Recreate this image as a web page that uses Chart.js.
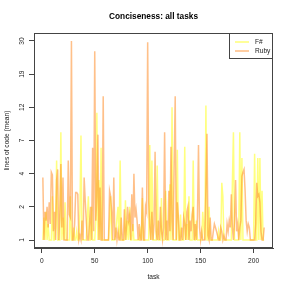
<!DOCTYPE html>
<html><head><meta charset="utf-8">
<script src="https://cdn.jsdelivr.net/npm/chart.js@4"></script>
<style>html,body{margin:0;padding:0;background:#fff}#w{width:291px;height:291px}</style>
</head><body><div id="w"><canvas id="c" width="291" height="291"></canvas></div>
<script>
const chartTitle = "Conciseness: all tasks";
const xTitle = "task";
const yTitle = "lines of code (mean)";
const seriesNames = ["F#", "Ruby"];
const yTickLabels = [1, 2, 4, 7, 12, 19, 30];
const xTicks = [0, 50, 100, 150, 200];
const tasks = Array.from({length: 210}, (_, i) => i + 1);

const fsharp = [
 1,1.6,1,1.8,1,1.4,1,1,1,2.5,
 1,1,1.3,5,1,1,1,8,1,1.6,
 1,2.2,1,1,1,1,2.5,1,1,1.3,
 1,1,1.2,1,1,1.8,7.6,1,1,1,
 1,1,1.6,2.5,1,1,2,1,1,1,
 1.5,11,1,3.5,1,6.2,1,1,1,1,
 1,1,1,1.5,2.5,1,1,1,1,1.2,
 1.6,2,1,5,1,1,1,1,2.3,1,
 1.5,1,2,1,1,1.4,1,1,1,1,
 1,1,1.2,1,2.4,1,1,1,1,1,
 1,6.5,1,5,1,1,1,1,4.6,1,
 1,1,2.4,1,1,1,2.8,1,1,1,
 3.2,1,12,1,1,1,1,6,1,1,
 1.7,1,1,1,6.3,1,1.4,1,2.5,1,
 1,1,5,1,1,1.5,1,1,1,1,
 1,1.8,1.3,1,12.3,1,1,2,1,1,
 1,1,1,1,1,1,1.2,1,1,3.3,
 2.5,1,1,1,1,1,1,1,1,3.3,
 8,1,1,1,1,1,8,1,5.2,1,
 1,1,1,1,1,1,1,1,1,1,
 5.6,1,1,5.2,1,5.2,1,2.8,1,1
];
const ruby = [
 3.7,1,1.8,1.5,2,1.3,2.2,1.4,4.1,3.9,
 1.2,1.8,1,3.5,4.3,1,1.6,4.7,1.3,3.7,
 1,1,1,1,5,1.7,1.6,30,1,1,
 1.4,2.7,2.7,2.6,1,1.1,1,1.5,1,3.7,
 2.3,1.5,1,1,1.4,2,1,6.2,1.2,26,
 1.5,2.5,7.7,1,3,1,1,14,1,1,
 1,1,1,2.8,2.5,1.8,1,3.7,1,1.3,
 1,1.2,1,1,1.6,1,1,1.9,1,1.3,
 2,1.5,1.7,1,2.6,1.2,4,1.6,1.9,1.5,
 1,1.4,1,1,3,1,1,2,1.8,29.5,
 2.2,1.3,1,1.8,1,1.4,5.8,1.2,1,1.5,
 1,2,1.2,1,1.3,8,1,1.5,1,2.8,
 1.2,6.3,1.5,1,4.6,14,1,2.2,1.6,1,
 1,1.3,1,1.6,1.4,1,1.8,2,1,1.5,
 1.2,1.7,2,1,1.4,1,1.6,6.5,1.3,1,
 1.2,1,1,1,3,7.8,1.1,1,1.6,1,
 1,1.2,1.4,1.3,1.2,1.1,1,1,1.3,1.2,
 1,1.1,1,1,1.4,1.2,1.5,1.3,2.6,1.3,
 1,1.5,3.5,1.2,1.4,1,1.3,1.5,3.8,4.1,
 4.3,2.8,1.5,1.2,1.4,1.3,1,1,1,1,
 1,1.4,3.3,2.5,2.6,2.2,1.2,1,1,1.3
];

// axis transform: tick labels are evenly spaced
function tr(v){
  const L = yTickLabels;
  for (let i = 0; i < L.length - 1; i++) {
    if (v <= L[i+1]) return i + Math.log(v / L[i]) / Math.log(L[i+1] / L[i]);
  }
  const n = L.length - 1;
  return n + Math.log(v / L[n]) / Math.log(L[n] / L[n-1]);
}
const colors = ["rgba(255,255,0,0.5)", "rgba(255,140,40,0.55)"];
const FONT = '"Liberation Sans", Arial, sans-serif';

const overlay = {
  id: 'overlay',
  afterDraw(chart){
    const ctx = chart.ctx, a = chart.chartArea;
    const xs = chart.scales.x, ys = chart.scales.y;
    ctx.save();
    ctx.strokeStyle = '#444'; ctx.lineWidth = 1;
    ctx.strokeRect(a.left + 0.5, a.top + 0.5, a.right - a.left - 1, a.bottom - a.top - 1);
    ctx.fillStyle = '#000';
    ctx.font = 'bold 8.3px ' + FONT;
    ctx.textAlign = 'center'; ctx.textBaseline = 'middle';
    ctx.fillText(chartTitle, (a.left + a.right) / 2, 17);
    ctx.font = '6.6px ' + FONT; ctx.fillStyle = '#222';
    xTicks.forEach(v => ctx.fillText(String(v), xs.getPixelForValue(v), 261));
    ctx.fillText(xTitle, (a.left + a.right) / 2, 277);
    yTickLabels.forEach((lab, i) => {
      ctx.save(); ctx.translate(22, ys.getPixelForValue(i)); ctx.rotate(-Math.PI/2);
      ctx.fillText(String(lab), 0, 0); ctx.restore();
    });
    ctx.save(); ctx.translate(7, (a.top + a.bottom) / 2); ctx.rotate(-Math.PI/2);
    ctx.fillText(yTitle, 0, 0); ctx.restore();
    // legend
    const lx0 = 229, ly0 = 33, lx1 = a.right, ly1 = 59;
    ctx.fillStyle = '#fff'; ctx.fillRect(lx0, ly0, lx1 - lx0, ly1 - ly0);
    ctx.strokeStyle = '#444';
    ctx.strokeRect(lx0 + 0.5, ly0 + 0.5, lx1 - lx0 - 1, ly1 - ly0 - 1);
    ctx.textAlign = 'left'; ctx.fillStyle = '#222';
    seriesNames.forEach((n, i) => {
      const y = 42 + i * 9;
      ctx.strokeStyle = colors[i]; ctx.lineWidth = 1.6;
      ctx.beginPath(); ctx.moveTo(235, y); ctx.lineTo(249, y); ctx.stroke();
      ctx.fillText(n, 255, y);
    });
    ctx.restore();
  }
};

new Chart(document.getElementById('c'), {
  type: 'line',
  data: {
    datasets: [
      { label: seriesNames[0], data: tasks.map((x, i) => ({x, y: tr(fsharp[i])})), borderColor: colors[0], borderWidth: 1.5, pointRadius: 0, tension: 0, order: 2 },
      { label: seriesNames[1], data: tasks.map((x, i) => ({x, y: tr(ruby[i])})), borderColor: colors[1], borderWidth: 1.5, pointRadius: 0, tension: 0, order: 1 }
    ]
  },
  options: {
    responsive: false, animation: false, devicePixelRatio: 1,
    layout: { padding: { left: 0, top: 33, right: 18, bottom: 0 } },
    plugins: { legend: { display: false }, tooltip: { enabled: false }, title: { display: false } },
    scales: {
      x: {
        type: 'linear', min: -7.36, max: 218.36,
        afterBuildTicks: s => { s.ticks = xTicks.map(v => ({value: v})); },
        afterFit: s => { s.height = 43; },
        ticks: { display: false },
        grid: { drawOnChartArea: false, drawTicks: true, tickLength: 5, color: '#444' },
        border: { display: true, color: '#444' }
      },
      y: {
        type: 'linear', min: -0.24, max: 6.24,
        afterBuildTicks: s => { s.ticks = yTickLabels.map((_, i) => ({value: i})); },
        afterFit: s => { s.width = 34; },
        ticks: { display: false },
        grid: { drawOnChartArea: false, drawTicks: true, tickLength: 5, color: '#444' },
        border: { display: true, color: '#444' }
      }
    }
  },
  plugins: [overlay]
});
</script>
</body></html>
